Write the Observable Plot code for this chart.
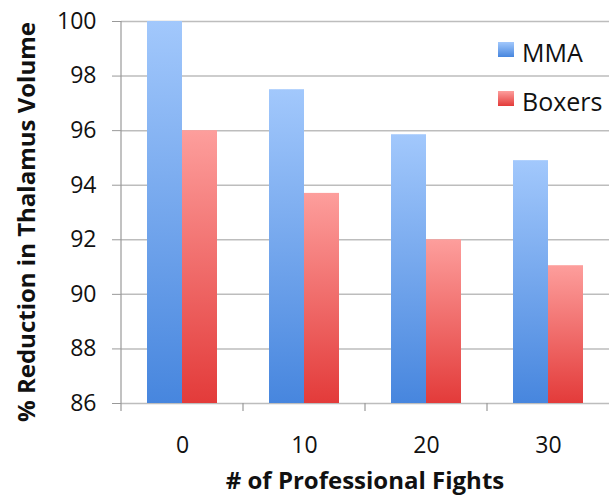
<!DOCTYPE html>
<html><head><meta charset="utf-8">
<script src="https://cdn.jsdelivr.net/npm/d3@7"></script>
<script src="https://cdn.jsdelivr.net/npm/@observablehq/plot@0.6"></script>
<style>body{margin:0;background:#fff;} #chart{position:relative;width:610px;height:497px}</style>
</head><body>
<svg width="0" height="0" style="position:absolute"><defs>
<linearGradient id="gBlue" x1="0" y1="0" x2="0" y2="1"><stop offset="0" stop-color="#a2c8fc"/><stop offset="1" stop-color="#4786de"/></linearGradient>
<linearGradient id="gRed" x1="0" y1="0" x2="0" y2="1"><stop offset="0" stop-color="#fd9e9c"/><stop offset="1" stop-color="#e33b3a"/></linearGradient>
</defs></svg>
<div id="chart"></div>
<script>
const fights = ["0", "10", "20", "30"];
const series = ["MMA", "Boxers"];
const mma = [100, 97.5, 95.85, 94.9];
const boxers = [96, 93.7, 92.0, 91.05];
const yTicks = [86, 88, 90, 92, 94, 96, 98, 100];
const yDomain = [86, 100];
const xTitle = "# of Professional Fights";
const yTitle = "% Reduction in Thalamus Volume";
const fills = {MMA: "url(#gBlue)", Boxers: "url(#gRed)"};

const rows = fights.flatMap((f, i) => [
  {fights: f, group: "MMA", value: mma[i]},
  {fights: f, group: "Boxers", value: boxers[i]}
]);
const font = "'Open Sans', sans-serif";

const chart = Plot.plot({
  width: 610, height: 497,
  marginLeft: 120, marginRight: 0, marginTop: 21, marginBottom: 94,
  style: {fontFamily: font, fontSize: "23px", background: "white", color: "#000"},
  fx: {domain: fights, paddingInner: 0, paddingOuter: 0, label: null, axis: null},
  x: {domain: series, paddingInner: 0, paddingOuter: 0.725, axis: null},
  y: {domain: yDomain, axis: null},
  marks: [
    Plot.gridY(yTicks, {stroke: "#bdbdbd", strokeOpacity: 1, strokeWidth: 1.5}),
    ...series.map(s => Plot.barY(rows.filter(d => d.group === s), {
      fx: "fights", x: "group", y1: () => yDomain[0], y2: "value", fill: fills[s]
    })),
    Plot.axisY(yTicks, {anchor: "left", tickSize: 9, tickPadding: 16, stroke: "#999", fill: "#111", fontSize: 23, label: null, tickFormat: d => String(d)}),
    Plot.axisFx({anchor: "bottom", tickSize: 0, tickPadding: 33, fill: "#111", fontSize: 23, label: null})
  ]
});
document.getElementById("chart").appendChild(chart);

const svg = d3.select(chart);
const fx = chart.scale("fx"), y = chart.scale("y");
const x0 = fx.apply(fights[0]);
const bw = fx.bandwidth;
const xEnd = fx.apply(fights[fights.length - 1]) + bw;
const yBottom = y.apply(yDomain[0]), yTop = y.apply(yDomain[1]);
// y axis line
svg.append("line").attr("x1", x0).attr("x2", x0).attr("y1", yTop).attr("y2", yBottom)
  .attr("stroke", "#999").attr("stroke-width", 1.2);
// category boundary ticks
fights.forEach(f => {
  const xx = fx.apply(f);
  svg.append("line").attr("x1", xx).attr("x2", xx).attr("y1", yBottom).attr("y2", yBottom + 8)
    .attr("stroke", "#999").attr("stroke-width", 1.2);
});
// titles
svg.append("text").text(xTitle)
  .attr("x", (x0 + xEnd) / 2).attr("y", 489)
  .attr("text-anchor", "middle").attr("font-weight", "bold").attr("font-size", 24).attr("fill", "#111");
svg.append("text").text(yTitle)
  .attr("transform", `translate(35,${(yTop + yBottom) / 2 + 10}) rotate(-90)`)
  .attr("text-anchor", "middle").attr("font-weight", "bold").attr("font-size", 24).attr("fill", "#111");
// legend
series.forEach((s, i) => {
  const ly = 42 + i * 49;
  svg.append("rect").attr("x", 498).attr("y", ly).attr("width", 16).attr("height", 15).attr("fill", fills[s]);
  svg.append("text").text(s).attr("x", 522).attr("y", ly + 20)
    .attr("text-anchor", "start").attr("font-size", 25).attr("fill", "#111");
});
</script>
</body></html>
